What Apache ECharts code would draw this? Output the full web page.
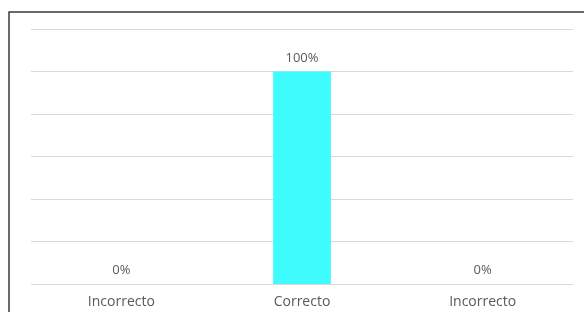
<!DOCTYPE html>
<html>
<head>
<meta charset="utf-8">
<script src="https://cdn.jsdelivr.net/npm/echarts@6/dist/echarts.min.js"></script>
<style>
  html, body { margin: 0; padding: 0; background: #fff; }
  #chart { width: 584px; height: 312px; }
</style>
</head>
<body>
<div id="chart"></div>
<script>
const categories = ['Incorrecto', 'Correcto', 'Incorrecto'];
const percentValues = [0, 100, 0];
const barColors = ['#3ffcff', '#3ffcff', '#3ffcff'];

const textColor = '#595959';
const fontFamily = '"Open Sans", sans-serif';

let chart = echarts.init(document.getElementById('chart'), null, { renderer: 'canvas' });

let options = {
  animation: false,
  grid: {
    top: 29,
    left: 31,
    right: 11,
    bottom: 28,
    containLabel: false
  },
  xAxis: {
    type: 'category',
    data: categories,
    axisLine: { show: false },
    axisTick: { show: false },
    axisLabel: {
      color: textColor,
      fontFamily,
      fontSize: 14,
      margin: 11
    }
  },
  yAxis: {
    type: 'value',
    min: 0,
    max: 120,
    interval: 20,
    axisLabel: { show: false },
    axisLine: { show: false },
    axisTick: { show: false },
    splitLine: {
      lineStyle: { color: '#d9d9d9', width: 1 }
    }
  },
  series: [
    {
      type: 'bar',
      barWidth: '32%',
      data: percentValues.map((v, i) => ({
        value: v,
        itemStyle: { color: barColors[i] }
      })),
      label: {
        show: true,
        position: 'top',
        distance: 7,
        color: textColor,
        fontFamily,
        fontSize: 13,
        formatter: p => p.value + '%'
      }
    }
  ],
  graphic: [
    {
      type: 'rect',
      silent: true,
      shape: { x: 9, y: 12, width: 700, height: 400 },
      style: { fill: 'none', stroke: '#3a3a3a', lineWidth: 1.5 }
    }
  ]
};

chart.setOption(options);
</script>
</body>
</html>
